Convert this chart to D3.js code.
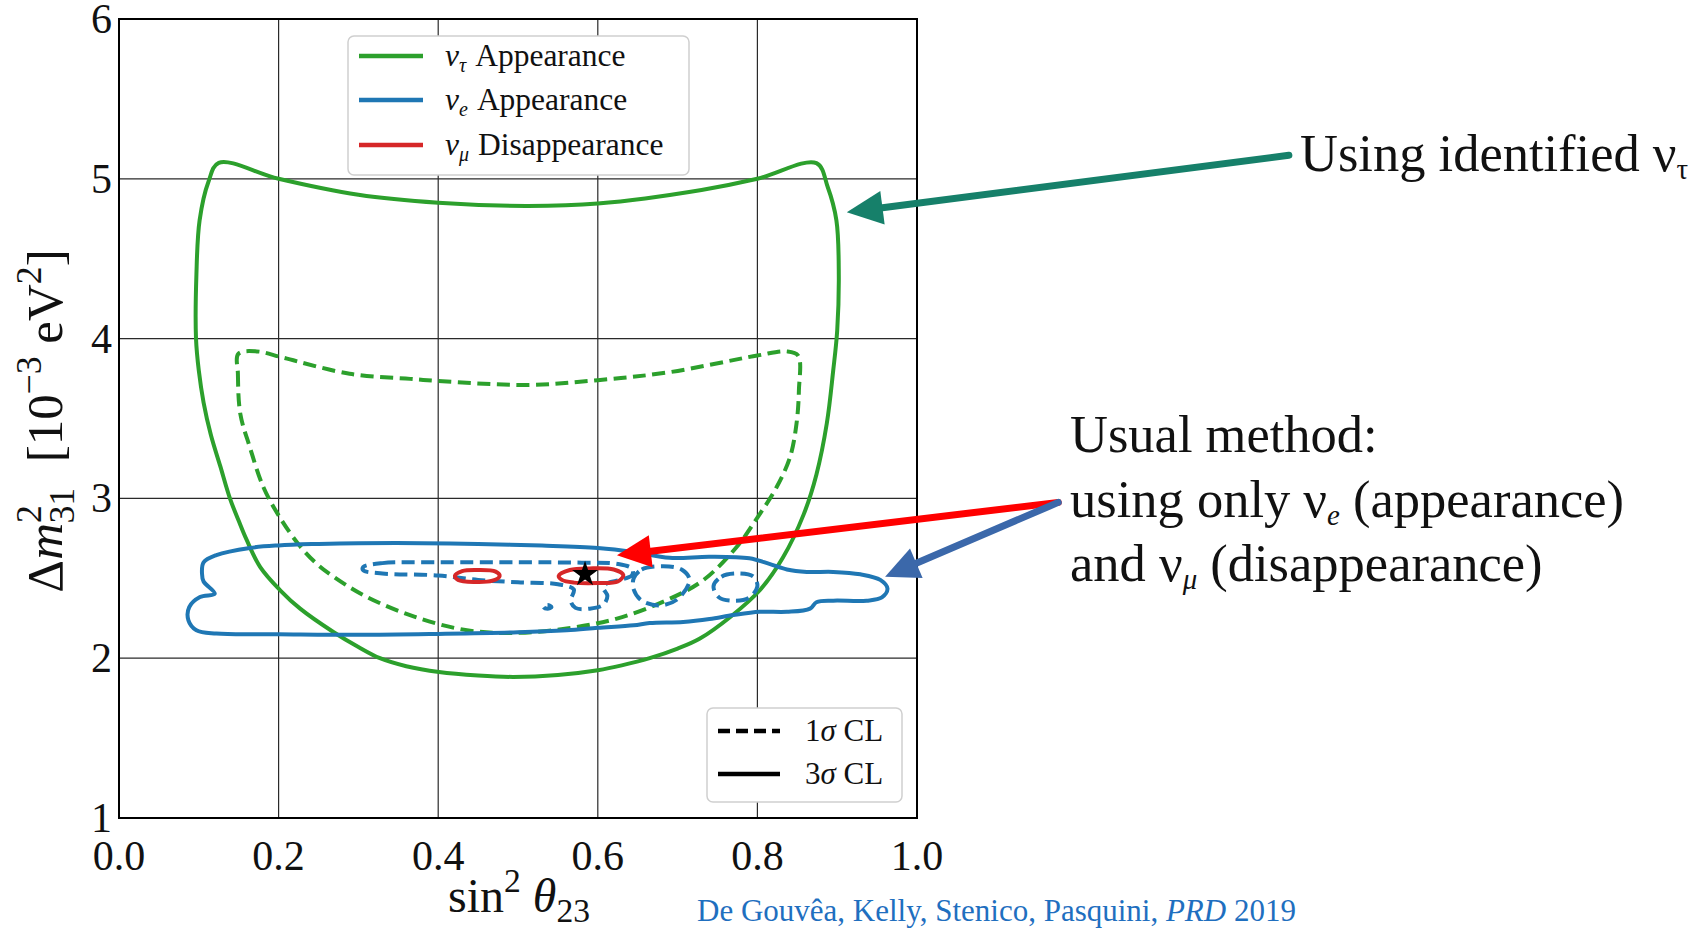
<!DOCTYPE html>
<html><head><meta charset="utf-8">
<script src="https://cdn.jsdelivr.net/npm/d3@7"></script>
<style>html,body{margin:0;padding:0;background:#fff;overflow:hidden}svg{display:block}</style>
</head><body><svg id="c" width="1694" height="928"></svg>
<script>
// ---------- data ----------
const xTicks = [0, 0.2, 0.4, 0.6, 0.8, 1.0];
const xTickLabels = ["0.0", "0.2", "0.4", "0.6", "0.8", "1.0"];
const yTicks = [1, 2, 3, 4, 5, 6];
const yTickLabels = ["1", "2", "3", "4", "5", "6"];

// nu_tau appearance, 3 sigma (solid)
const tau3sigma = [[0.125,5.10],[0.112,4.98],[0.101,4.74],[0.097,4.40],[0.0965,4.0],[0.100,3.80],[0.106,3.60],[0.115,3.40],[0.127,3.20],[0.139,3.00],[0.150,2.86],[0.160,2.74],[0.177,2.57],[0.202,2.425],[0.227,2.31],[0.2686,2.164],[0.30,2.07],[0.327,2.00],[0.36,1.95],[0.401,1.914],[0.45,1.892],[0.494,1.883],[0.55,1.895],[0.60,1.925],[0.63,1.955],[0.665,2.00],[0.70,2.06],[0.728,2.123],[0.766,2.258],[0.803,2.425],[0.832,2.63],[0.858,2.90],[0.874,3.15],[0.887,3.47],[0.895,3.80],[0.900,4.05],[0.902,4.40],[0.899,4.74],[0.888,4.95],[0.874,5.098],[0.80,5.00],[0.73,4.93],[0.60,4.845],[0.51,4.83],[0.40,4.85],[0.30,4.90],[0.20,5.00]];
// nu_tau appearance, 1 sigma (dashed)
const tau1sigma = [[0.1495,3.904],[0.149,3.78],[0.152,3.53],[0.164,3.32],[0.181,3.07],[0.2017,2.88],[0.227,2.70],[0.248,2.59],[0.266,2.52],[0.308,2.39],[0.37,2.26],[0.436,2.175],[0.494,2.158],[0.561,2.186],[0.624,2.248],[0.686,2.3625],[0.732,2.4875],[0.774,2.696],[0.80,2.88],[0.824,3.07],[0.841,3.26],[0.849,3.467],[0.852,3.675],[0.851,3.894],[0.837,3.92],[0.80,3.894],[0.69,3.79],[0.60,3.74],[0.51,3.71],[0.40,3.735],[0.365,3.748],[0.289,3.78],[0.206,3.88],[0.1725,3.92]];
// nu_e appearance, 3 sigma (solid)
const e3sigma = [[0.106,2.60],[0.122,2.645],[0.164,2.69],[0.20,2.706],[0.25,2.715],[0.30,2.72],[0.38,2.72],[0.45,2.715],[0.53,2.705],[0.60,2.69],[0.645,2.665],[0.69,2.628],[0.74,2.635],[0.79,2.625],[0.815,2.59],[0.837,2.555],[0.862,2.54],[0.895,2.54],[0.929,2.525],[0.954,2.49],[0.963,2.435],[0.956,2.38],[0.937,2.36],[0.895,2.36],[0.874,2.35],[0.866,2.31],[0.837,2.29],[0.803,2.29],[0.77,2.27],[0.74,2.245],[0.707,2.227],[0.665,2.22],[0.645,2.206],[0.60,2.19],[0.561,2.175],[0.50,2.162],[0.40,2.152],[0.30,2.146],[0.20,2.15],[0.122,2.154],[0.097,2.175],[0.087,2.237],[0.088,2.32],[0.1015,2.383],[0.12,2.404],[0.106,2.48],[0.104,2.53]];
// nu_e appearance, 1 sigma (dashed) – several islands
const e1sigmaMain = [[0.306,2.57],[0.33,2.595],[0.40,2.60],[0.50,2.60],[0.58,2.598],[0.625,2.59],[0.643,2.56],[0.643,2.52],[0.628,2.49],[0.612,2.47],[0.607,2.44],[0.612,2.39],[0.607,2.335],[0.59,2.31],[0.572,2.315],[0.566,2.36],[0.57,2.43],[0.55,2.463],[0.50,2.475],[0.45,2.49],[0.40,2.518],[0.33,2.53],[0.306,2.55]];
const e1sigmaLoopD = [[0.645,2.50],[0.655,2.555],[0.682,2.575],[0.705,2.555],[0.715,2.49],[0.70,2.37],[0.678,2.33],[0.655,2.36],[0.645,2.43]];
const e1sigmaLoopE = [[0.745,2.45],[0.755,2.51],[0.775,2.53],[0.795,2.51],[0.80,2.45],[0.79,2.38],[0.772,2.36],[0.752,2.38]];
const e1sigmaDot = [[0.532,2.32],[0.537,2.333],[0.542,2.32],[0.537,2.31]];
// nu_mu disappearance, 1 sigma (solid red loops)
const mu1sigmaA = [[0.421,2.515],[0.43,2.545],[0.45,2.552],[0.472,2.542],[0.477,2.515],[0.468,2.485],[0.445,2.477],[0.425,2.49]];
const mu1sigmaB = [[0.551,2.515],[0.565,2.552],[0.59,2.562],[0.62,2.555],[0.632,2.52],[0.625,2.48],[0.6,2.47],[0.57,2.473],[0.555,2.49]];
const bestFit = [0.584, 2.525];

const seriesNames = ["tau", "e", "mu"];
const seriesColors = ["#2ca02c", "#1f77b4", "#d62728"];
const seriesLabels = [["ν","τ","Appearance"],["ν","e","Appearance"],["ν","μ","Disappearance"]];
const clLabels = ["1σ CL", "3σ CL"];

const contours = [
  {s:"tau", dashed:false, pts:tau3sigma},
  {s:"tau", dashed:true, pts:tau1sigma},
  {s:"e", dashed:false, pts:e3sigma},
  {s:"e", dashed:true, pts:e1sigmaMain},
  {s:"e", dashed:true, pts:e1sigmaLoopD},
  {s:"e", dashed:true, pts:e1sigmaLoopE},
  {s:"e", dashed:true, pts:e1sigmaDot},
  {s:"mu", dashed:false, pts:mu1sigmaA},
  {s:"mu", dashed:false, pts:mu1sigmaB}
];

// ---------- layout ----------
const W = 1694, H = 928;
const L = 119, R = 917, T = 19, B = 818;
const x = d3.scaleLinear().domain([0,1]).range([L,R]);
const y = d3.scaleLinear().domain([1,6]).range([B,T]);
const color = d3.scaleOrdinal().domain(seriesNames).range(seriesColors);
const serif = "'Liberation Serif','DejaVu Serif',serif";

const svg = d3.select("#c");
svg.append("rect").attr("width",W).attr("height",H).attr("fill","#fff");

// grid
const g = svg.append("g");
g.selectAll(".gx").data(xTicks.slice(1,-1)).join("line")
  .attr("x1",d=>x(d)).attr("x2",d=>x(d)).attr("y1",T).attr("y2",B)
  .attr("stroke","#2a2a2a").attr("stroke-width",1.2);
g.selectAll(".gy").data(yTicks.slice(1,-1)).join("line")
  .attr("y1",d=>y(d)).attr("y2",d=>y(d)).attr("x1",L).attr("x2",R)
  .attr("stroke","#2a2a2a").attr("stroke-width",1.2);

// contours
svg.append("clipPath").attr("id","clip").append("rect").attr("x",L).attr("y",T).attr("width",R-L).attr("height",B-T);
const line = d3.line().x(d=>x(d[0])).y(d=>y(d[1])).curve(d3.curveCatmullRomClosed.alpha(0.5));
const cg = svg.append("g").attr("clip-path","url(#clip)");
cg.selectAll("path").data(contours).join("path")
  .attr("d",d=>line(d.pts))
  .attr("fill","none")
  .attr("stroke",d=>color(d.s))
  .attr("stroke-width",4)
  .attr("stroke-linejoin","round")
  .attr("stroke-dasharray",d=>d.dashed?"13,6.5":null);

// best fit star
cg.append("path")
  .attr("d",d3.symbol(d3.symbolStar,210)())
  .attr("transform",`translate(${x(bestFit[0])},${y(bestFit[1])})`)
  .attr("fill","#000");

// frame
svg.append("rect").attr("x",L).attr("y",T).attr("width",R-L).attr("height",B-T)
  .attr("fill","none").attr("stroke","#000").attr("stroke-width",2);

// tick labels
svg.selectAll(".xt").data(xTicks).join("text")
  .attr("x",d=>x(d)).attr("y",870).attr("text-anchor","middle")
  .attr("font-family",serif).attr("font-size",42).attr("fill","#111")
  .text((d,i)=>xTickLabels[i]);
svg.selectAll(".yt").data(yTicks).join("text")
  .attr("x",112).attr("y",d=>y(d)+14).attr("text-anchor","end")
  .attr("font-family",serif).attr("font-size",42).attr("fill","#111")
  .text((d,i)=>yTickLabels[i]);

// axis labels
const F = 51;
const yl = svg.append("text").attr("transform","translate(62,421) rotate(-90)")
  .attr("text-anchor","middle").attr("font-family",serif).attr("font-size",F).attr("fill","#111");
yl.append("tspan").text("Δ");
yl.append("tspan").attr("font-style","italic").text("m");
yl.append("tspan").attr("font-size",F*0.7).attr("dy",-0.42*F).text("2");
yl.append("tspan").attr("font-size",F*0.7).attr("dx",-0.36*F).attr("dy",0.66*F).text("31");
yl.append("tspan").attr("dy",-0.24*F).text("\u00a0\u00a0[10");
yl.append("tspan").attr("font-size",F*0.7).attr("dy",-0.42*F).text("−3");
yl.append("tspan").attr("dy",0.42*F).text("\u00a0eV");
yl.append("tspan").attr("font-size",F*0.7).attr("dy",-0.42*F).text("2");
yl.append("tspan").attr("dy",0.42*F).text("]");

const FX = 48;
const xl = svg.append("text").attr("x",519).attr("y",912).attr("text-anchor","middle")
  .attr("font-family",serif).attr("font-size",FX).attr("fill","#111");
xl.append("tspan").text("sin");
xl.append("tspan").attr("font-size",FX*0.7).attr("dy",-0.42*FX).text("2");
xl.append("tspan").attr("dy",0.42*FX).text("\u00a0");
xl.append("tspan").attr("font-style","italic").text("θ");
xl.append("tspan").attr("font-size",FX*0.7).attr("dy",0.2*FX).text("23");

// legend 1 (series)
const lg = svg.append("g");
lg.append("rect").attr("x",348).attr("y",36).attr("width",341).attr("height",139).attr("rx",6)
  .attr("fill","#fff").attr("stroke","#cfcfcf").attr("stroke-width",1.5);
const lys = [56,100,145];
seriesNames.forEach((s,i)=>{
  lg.append("line").attr("x1",359).attr("x2",423).attr("y1",lys[i]).attr("y2",lys[i])
    .attr("stroke",color(s)).attr("stroke-width",4.5);
  const t = lg.append("text").attr("x",445).attr("y",lys[i]+10)
    .attr("font-family",serif).attr("font-size",31.5).attr("fill","#111");
  t.append("tspan").attr("font-style","italic").text(seriesLabels[i][0]);
  t.append("tspan").attr("font-style","italic").attr("font-size",20).attr("dy",6).text(seriesLabels[i][1]);
  t.append("tspan").attr("dy",-6).attr("dx",9).text(seriesLabels[i][2]);
});

// legend 2 (CL)
const lg2 = svg.append("g");
lg2.append("rect").attr("x",707).attr("y",708).attr("width",195).attr("height",94).attr("rx",6)
  .attr("fill","#fff").attr("stroke","#cfcfcf").attr("stroke-width",1.5);
[731,774].forEach((yy,i)=>{
  lg2.append("line").attr("x1",718).attr("x2",780).attr("y1",yy).attr("y2",yy)
    .attr("stroke","#000").attr("stroke-width",4.5).attr("stroke-dasharray",i===0?"12,6":null);
  const parts = clLabels[i].split("σ");
  const t = lg2.append("text").attr("x",805).attr("y",yy+10)
    .attr("font-family",serif).attr("font-size",31).attr("fill","#111");
  t.append("tspan").text(parts[0]);
  t.append("tspan").attr("font-style","italic").text("σ");
  t.append("tspan").text(parts[1]);
});

// annotation arrows (anchored in data coordinates)
function arrow(x0,y0,x1,y1,col,w,hl,hw){
  const px0=x(x0), py0=y(y0), px1=x(x1), py1=y(y1);
  const dx=px1-px0, dy=py1-py0, len=Math.hypot(dx,dy), ux=dx/len, uy=dy/len;
  const bx=px1-ux*hl, by=py1-uy*hl;
  svg.append("line").attr("x1",px0).attr("y1",py0).attr("x2",bx+ux*2).attr("y2",by+uy*2)
    .attr("stroke",col).attr("stroke-width",w).attr("stroke-linecap","round");
  svg.append("polygon").attr("points",[[px1,py1],[bx-uy*hw,by+ux*hw],[bx+uy*hw,by-ux*hw]].map(p=>p.join(",")).join(" "))
    .attr("fill",col);
}
arrow(1.466,5.147,0.912,4.79,"#16806a",7,36,17);
arrow(1.177,2.975,0.624,2.644,"#ff0000",7,34,16);
arrow(1.177,2.975,0.960,2.51,"#3b68aa",7,34,16);

// annotation texts
const AF = 52.5;
const a1 = svg.append("text").attr("x",1300).attr("y",171).attr("font-family",serif).attr("font-size",AF).attr("fill","#111");
a1.append("tspan").text("Using identified ν");
a1.append("tspan").attr("font-size",AF*0.55).attr("dy",8).text("τ");

svg.append("text").attr("x",1070).attr("y",452).attr("font-family",serif).attr("font-size",AF).attr("fill","#111").text("Usual method:");
const a3 = svg.append("text").attr("x",1070).attr("y",517).attr("font-family",serif).attr("font-size",AF).attr("fill","#111");
a3.append("tspan").text("using only ν");
a3.append("tspan").attr("font-size",AF*0.55).attr("font-style","italic").attr("dy",8).text("e");
a3.append("tspan").attr("dy",-8).text(" (appearance)");
const a4 = svg.append("text").attr("x",1070).attr("y",581).attr("font-family",serif).attr("font-size",AF).attr("fill","#111");
a4.append("tspan").text("and ν");
a4.append("tspan").attr("font-size",AF*0.55).attr("font-style","italic").attr("dy",8).text("μ");
a4.append("tspan").attr("dy",-8).text(" (disappearance)");

// citation
const ct = svg.append("text").attr("x",697).attr("y",921).attr("font-family",serif).attr("font-size",31).attr("fill","#1f6fbf");
ct.append("tspan").text("De Gouvêa, Kelly, Stenico, Pasquini, ");
ct.append("tspan").attr("font-style","italic").text("PRD");
ct.append("tspan").text(" 2019");
</script></body></html>
